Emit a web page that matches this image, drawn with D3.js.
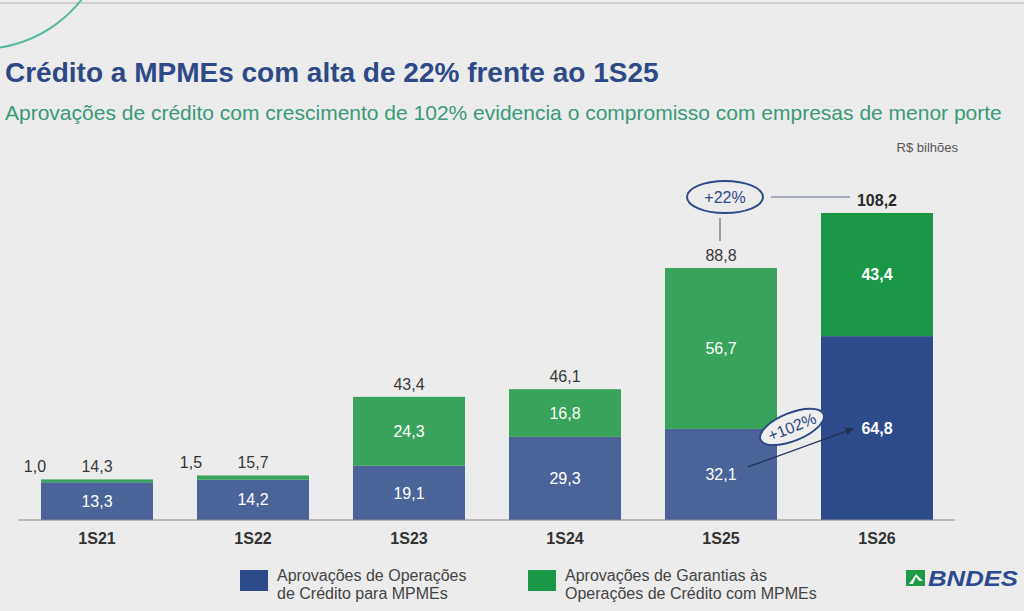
<!DOCTYPE html>
<html>
<head>
<meta charset="utf-8">
<script src="https://cdn.jsdelivr.net/npm/d3@7"></script>
<style>
  body { margin: 0; background: #ececec; }
  svg { display: block; font-family: "Liberation Sans", Arial, sans-serif; }
</style>
</head>
<body>
<div id="chart"></div>
<script>
// data (R$ bilhões)
var categories = ['1S21', '1S22', '1S23', '1S24', '1S25', '1S26'];
var credito = [13.3, 14.2, 19.1, 29.3, 32.1, 64.8];
var garantias = [1.0, 1.5, 24.3, 16.8, 56.7, 43.4];
var totals = [14.3, 15.7, 43.4, 46.1, 88.8, 108.2];
var legendLabels = [
  ['Aprovações de Operações', 'de Crédito para MPMEs'],
  ['Aprovações de Garantias às', 'Operações de Crédito com MPMEs']
];

var width = 1024,
  height = 611;

var blue = '#4a6398', blueDark = '#2c4b8b';
var green = '#3aa35b', greenDark = '#1a9846';
var navy = '#2e4a86';

var svg = d3.select('#chart')
  .append('svg')
  .attr('width', width)
  .attr('height', height);

svg.append('rect').attr('width', width).attr('height', height).attr('fill', '#ececec');

// top rule and decorative arc
svg.append('line')
  .attr('x1', 0).attr('x2', width).attr('y1', 3).attr('y2', 3)
  .attr('stroke', '#c9c9c9').attr('stroke-width', 1.5);

svg.append('path')
  .attr('d', d3.arc()({ innerRadius: 129, outerRadius: 129, startAngle: Math.PI * 0.5, endAngle: Math.PI * 1.1 }))
  .attr('transform', 'translate(-20,-80)')
  .attr('fill', 'none')
  .attr('stroke', '#5cb7a2')
  .attr('stroke-width', 2);

// titles
svg.append('text')
  .attr('x', 5).attr('y', 82)
  .attr('fill', navy)
  .attr('font-size', 28)
  .attr('font-weight', 'bold')
  .text('Crédito a MPMEs com alta de 22% frente ao 1S25');

svg.append('text')
  .attr('x', 5).attr('y', 120)
  .attr('fill', '#3a9a78')
  .attr('font-size', 21)
  .text('Aprovações de crédito com crescimento de 102% evidencia o compromisso com empresas de menor porte');

svg.append('text')
  .attr('x', 958).attr('y', 152)
  .attr('text-anchor', 'end')
  .attr('fill', '#555')
  .attr('font-size', 13)
  .text('R$ bilhões');

// scales
var x = d3.scaleBand()
  .domain(categories)
  .range([19, 955])
  .paddingInner(0.282)
  .paddingOuter(0.141);

var y = d3.scaleLinear()
  .domain([0, totals[5]])
  .range([520, 213]);

var rows = categories.map(function (c, i) {
  return { cat: c, credito: credito[i], garantias: garantias[i], total: totals[i], last: i === categories.length - 1 };
});

var g = svg.append('g');

// credito (bottom)
g.selectAll('rect.credito')
  .data(rows)
  .enter()
  .append('rect')
  .attr('class', 'credito')
  .attr('x', function (d) { return x(d.cat); })
  .attr('width', x.bandwidth())
  .attr('y', function (d) { return y(d.credito); })
  .attr('height', function (d) { return y(0) - y(d.credito); })
  .attr('fill', function (d) { return d.last ? blueDark : blue; });

// garantias (top)
g.selectAll('rect.garantias')
  .data(rows)
  .enter()
  .append('rect')
  .attr('class', 'garantias')
  .attr('x', function (d) { return x(d.cat); })
  .attr('width', x.bandwidth())
  .attr('y', function (d) { return y(d.credito + d.garantias); })
  .attr('height', function (d) { return y(d.credito) - y(d.credito + d.garantias); })
  .attr('fill', function (d) { return d.last ? greenDark : green; });

var fmt = function (v) { return d3.format('.1f')(v).replace('.', ','); };

// inner labels
g.selectAll('text.lblCredito')
  .data(rows)
  .enter()
  .append('text')
  .attr('x', function (d) { return x(d.cat) + x.bandwidth() / 2; })
  .attr('y', function (d) { return (y(0) + y(d.credito)) / 2; })
  .attr('dy', '0.35em')
  .attr('text-anchor', 'middle')
  .attr('fill', '#fff')
  .attr('font-size', 16)
  .attr('font-weight', function (d) { return d.last ? 'bold' : 'normal'; })
  .text(function (d) { return fmt(d.credito); });

g.selectAll('text.lblGarantias')
  .data(rows)
  .enter()
  .append('text')
  .attr('x', function (d) { return d.garantias < 5 ? x(d.cat) - 6 : x(d.cat) + x.bandwidth() / 2; })
  .attr('y', function (d) {
    return d.garantias < 5 ? y(d.total) - 7 : (y(d.credito) + y(d.credito + d.garantias)) / 2;
  })
  .attr('dy', function (d) { return d.garantias < 5 ? 0 : '0.35em'; })
  .attr('text-anchor', 'middle')
  .attr('fill', function (d) { return d.garantias < 5 ? '#333' : '#fff'; })
  .attr('font-size', 16)
  .attr('font-weight', function (d) { return d.last ? 'bold' : 'normal'; })
  .text(function (d) { return fmt(d.garantias); });

// totals
g.selectAll('text.total')
  .data(rows)
  .enter()
  .append('text')
  .attr('x', function (d) { return x(d.cat) + x.bandwidth() / 2; })
  .attr('y', function (d) { return y(d.total) - 7; })
  .attr('text-anchor', 'middle')
  .attr('fill', function (d) { return d.last ? '#2a2a2a' : '#3a3a3a'; })
  .attr('font-size', 16)
  .attr('font-weight', function (d) { return d.last ? 'bold' : 'normal'; })
  .text(function (d) { return fmt(d.total); });

// axis
var xAxis = svg.append('g')
  .attr('transform', 'translate(0,' + y(0) + ')')
  .call(d3.axisBottom(x).tickSize(0).tickPadding(13));
xAxis.select('.domain')
  .attr('d', 'M18,0H955')
  .attr('stroke', '#8a8a8a');
xAxis.selectAll('text')
  .attr('font-family', '"Liberation Sans", Arial, sans-serif')
  .attr('font-size', 16)
  .attr('font-weight', 'bold')
  .attr('fill', '#333');

// +22% annotation
var c25 = x('1S25') + x.bandwidth() / 2,
  c26 = x('1S26') + x.bandwidth() / 2;
var e22x = c25 + 4, e22y = y(totals[5]) - 16;
svg.append('line')
  .attr('x1', e22x + 46).attr('x2', c26 - 27)
  .attr('y1', e22y).attr('y2', e22y)
  .attr('stroke', '#5d6b88').attr('stroke-width', 1.2);
svg.append('line')
  .attr('x1', c25 - 1).attr('x2', c25 - 1)
  .attr('y1', e22y + 21).attr('y2', y(totals[4]) - 27)
  .attr('stroke', '#5d6b88').attr('stroke-width', 1.2);
svg.append('ellipse')
  .attr('cx', e22x).attr('cy', e22y)
  .attr('rx', 38).attr('ry', 16)
  .attr('fill', 'none')
  .attr('stroke', navy).attr('stroke-width', 2);
svg.append('text')
  .attr('x', e22x).attr('y', e22y)
  .attr('dy', '0.35em')
  .attr('text-anchor', 'middle')
  .attr('fill', navy)
  .attr('font-size', 16)
  .text('+22%');

// +102% annotation
svg.append('defs').append('marker')
  .attr('id', 'arrow')
  .attr('viewBox', '0 0 10 10')
  .attr('refX', 9).attr('refY', 5)
  .attr('markerWidth', 7).attr('markerHeight', 7)
  .attr('orient', 'auto')
  .append('path')
  .attr('d', 'M0,0L10,5L0,10z')
  .attr('fill', '#1f2f55');

svg.append('line')
  .attr('x1', c25 + 27).attr('y1', y(credito[4]) + 38)
  .attr('x2', c26 - 24).attr('y2', y(credito[4]))
  .attr('stroke', '#1f2f55').attr('stroke-width', 1.2)
  .attr('marker-end', 'url(#arrow)');

var e102x = x('1S26') - 29, e102y = y(credito[4]) - 2;
var e102 = svg.append('g')
  .attr('transform', 'translate(' + e102x + ',' + e102y + ') rotate(-22)');
e102.append('ellipse')
  .attr('rx', 34).attr('ry', 14)
  .attr('fill', '#efefef')
  .attr('stroke', navy).attr('stroke-width', 2);
e102.append('text')
  .attr('dy', '0.35em')
  .attr('text-anchor', 'middle')
  .attr('fill', navy)
  .attr('font-size', 16)
  .text('+102%');

// legend
var legendX = [240, 528];
var legendColors = [blueDark, greenDark];
var legend = svg.selectAll('g.legend')
  .data(legendLabels)
  .enter()
  .append('g')
  .attr('class', 'legend')
  .attr('transform', function (d, i) { return 'translate(' + legendX[i] + ',570)'; });
legend.append('rect')
  .attr('width', 28).attr('height', 21)
  .attr('fill', function (d, i) { return legendColors[i]; });
legend.selectAll('text')
  .data(function (d) { return d; })
  .enter()
  .append('text')
  .attr('x', 37)
  .attr('y', function (d, i) { return 11 + i * 18; })
  .attr('fill', '#444')
  .attr('font-size', 16)
  .text(function (d) { return d; });

// BNDES logo
var logo = svg.append('g').attr('transform', 'translate(906,570)');
logo.append('rect').attr('width', 19).attr('height', 16).attr('fill', '#1f9a46');
logo.append('path')
  .attr('d', 'M3,14L10,4L17,11L13,11L10,7L7,14Z')
  .attr('fill', '#ececec');
logo.append('text')
  .attr('x', 22).attr('y', 16)
  .attr('fill', '#2b4a90')
  .attr('font-size', 22)
  .attr('font-weight', 'bold')
  .attr('font-style', 'italic')
  .attr('textLength', 90)
  .attr('lengthAdjust', 'spacingAndGlyphs')
  .text('BNDES');
</script>
</body>
</html>
